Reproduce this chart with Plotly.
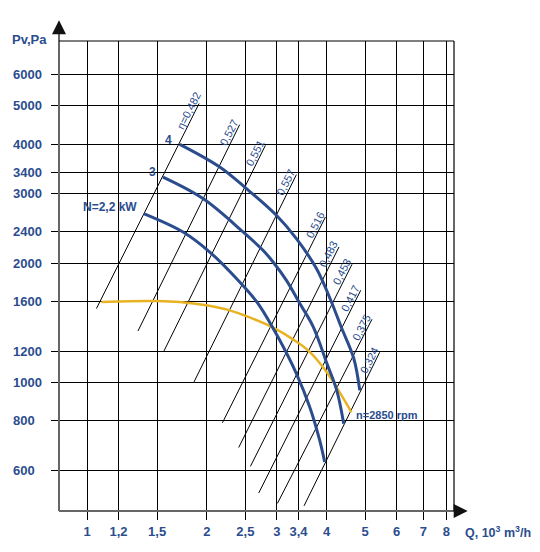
import numpy as np
import plotly.graph_objects as go

# axis ticks
q_ticks = [1, 1.2, 1.5, 2, 2.5, 3, 3.4, 4, 5, 6, 7, 8]
q_tick_text = ["1", "1,2", "1,5", "2", "2,5", "3", "3,4", "4", "5", "6", "7", "8"]
p_ticks = [600, 800, 1000, 1200, 1600, 2000, 2400, 3000, 3400, 4000, 5000, 6000]

# fan curves (Q in 10^3 m3/h, Pv in Pa)
q_22 = [1.388, 1.743, 2.034, 2.419, 2.690, 3.019, 3.358, 3.627, 3.843, 3.955]
p_22 = [2670, 2399, 2135, 1793, 1582, 1302, 1053, 867, 714, 630]

q_3 = [1.552, 1.956, 2.466, 2.768, 2.934, 3.170, 3.423, 3.697, 4.014, 4.241, 4.416]
p_3 = [3300, 2913, 2400, 2157, 2015, 1811, 1585, 1386, 1111, 955, 787]

q_4 = [1.710, 2.155, 2.515, 2.991, 3.358, 3.771, 4.113, 4.352, 4.679, 4.845]
p_4 = [3994, 3501, 3087, 2643, 2308, 1939, 1597, 1380, 1151, 955]

# rpm curve
q_n = [1.087, 1.280, 1.494, 1.710, 1.995, 2.283, 2.563, 2.929, 3.293, 3.627, 3.996, 4.314, 4.617]
p_n = [1597, 1604, 1605, 1596, 1566, 1521, 1460, 1378, 1285, 1195, 1064, 944, 842]

# efficiency lines: lower and upper ends
eta_labels = ["\u03b7=0,482", "0,527", "0,551", "0,557", "0,516", "0,483", "0,453", "0,417", "0,375", "0,324"]
eta_q_lo = [1.056, 1.343, 1.561, 1.857, 2.189, 2.405, 2.574, 2.701, 3.009, 3.510]
eta_p_lo = [1537, 1349, 1201, 1003, 791, 685, 614, 526, 495, 488]
eta_q_hi = [1.912, 2.419, 2.807, 3.358, 3.972, 4.297, 4.633, 4.872, 5.200, 5.437]
eta_p_hi = [5061, 4479, 3971, 3348, 2617, 2199, 1988, 1709, 1444, 1192]

blue = "#2b4d8e"
yellow = "#e8b322"
font = "Arial, Liberation Sans, sans-serif"

fig = go.Figure()

for i in range(len(eta_labels)):
    fig.add_trace(go.Scatter(
        x=[eta_q_lo[i], eta_q_hi[i]], y=[eta_p_lo[i], eta_p_hi[i]],
        mode="lines", line=dict(color="black", width=1), hoverinfo="skip"))
    fig.add_annotation(
        x=np.log10(eta_q_hi[i]), y=np.log10(eta_p_hi[i]), xref="x", yref="y",
        text=eta_labels[i], showarrow=False, textangle=-63,
        xanchor="center", yanchor="middle", xshift=-10.5, yshift=-7.5,
        font=dict(family=font, size=11, color=blue))

fig.add_trace(go.Scatter(x=q_n, y=p_n, mode="lines", line=dict(color=yellow, width=2.5, shape="spline")))
for q, p in [(q_22, p_22), (q_3, p_3), (q_4, p_4)]:
    fig.add_trace(go.Scatter(x=q, y=p, mode="lines", line=dict(color=blue, width=3, shape="spline")))

# curve labels
for q, p, txt, dx, dy in [(q_22, p_22, "N=2,2 kW", -5, 7), (q_3, p_3, "3", -5, 5), (q_4, p_4, "4", -6, 4)]:
    fig.add_annotation(x=np.log10(q[0]), y=np.log10(p[0]), xref="x", yref="y", text=txt,
                       showarrow=False, xanchor="right", yanchor="middle", xshift=dx, yshift=dy,
                       font=dict(family=font, size=12, color=blue, weight="bold"))
fig.add_annotation(x=np.log10(q_n[-1]), y=np.log10(p_n[-1]), xref="x", yref="y", text="n=2850 rpm",
                   showarrow=False, xanchor="left", yanchor="middle", xshift=3, yshift=-3,
                   font=dict(family=font, size=11, color=blue, weight="bold"))

# y tick labels, left aligned
for p in p_ticks:
    fig.add_annotation(x=-0.1223, y=np.log10(p), xref="paper", yref="y", text=str(p),
                       showarrow=False, xanchor="left", yanchor="middle",
                       font=dict(family=font, size=13, color=blue, weight="bold"))

fig.add_annotation(x=-0.1248, y=1.004, xref="paper", yref="paper", text="Pv,Pa", showarrow=False,
                   xanchor="left", yanchor="middle", font=dict(family=font, size=13, color=blue, weight="bold"))
fig.add_annotation(x=1.022, y=-0.045, xref="paper", yref="paper", text="Q, 10<sup>3</sup> m<sup>3</sup>/h",
                   showarrow=False, xanchor="left", yanchor="middle",
                   font=dict(family=font, size=12.5, color=blue, weight="bold"))

# axes (gray) with black arrow heads
fig.add_shape(type="line", xref="paper", yref="paper", x0=0, x1=0, y0=0, y1=1.03,
              line=dict(color="#666666", width=2))
fig.add_shape(type="line", xref="paper", yref="paper", x0=0, x1=1.025, y0=0, y1=0,
              line=dict(color="#666666", width=2))
fig.add_annotation(x=0, y=1.044, xref="paper", yref="paper", ax=0, ay=14, axref="pixel", ayref="pixel",
                   text="", showarrow=True, arrowhead=2, arrowsize=1.4, arrowwidth=2, arrowcolor="#111111",
                   standoff=0, startstandoff=0)
fig.add_annotation(x=1.0347, y=0, xref="paper", yref="paper", ax=-14, ay=0, axref="pixel", ayref="pixel",
                   text="", showarrow=True, arrowhead=2, arrowsize=1.4, arrowwidth=2, arrowcolor="#111111",
                   standoff=0, startstandoff=0)

# top and right frame
fig.add_shape(type="line", xref="paper", yref="paper", x0=0, x1=1, y0=1, y1=1, line=dict(color="black", width=1.2))
fig.add_shape(type="line", xref="paper", yref="paper", x0=1, x1=1, y0=0, y1=1, line=dict(color="black", width=1.2))

fig.update_xaxes(type="log", range=[-0.0704, 0.9221], tickvals=q_ticks, ticktext=q_tick_text,
                 showgrid=True, gridcolor="black", gridwidth=1.2, ticks="outside", ticklen=8,
                 tickcolor="black", tickwidth=1.2, showline=False, zeroline=False, automargin=False,
                 tickfont=dict(family=font, size=13, color=blue, weight="bold"))
fig.update_yaxes(type="log", range=[2.6754, 3.8623], tickvals=p_ticks, showticklabels=False,
                 showgrid=True, gridcolor="black", gridwidth=1.2, ticks="outside", ticklen=7,
                 tickcolor="black", tickwidth=1.2, showline=False, zeroline=False, automargin=False)

# page body adds 8px, so the margins are trimmed by that amount
fig.update_layout(width=524, height=536, margin=dict(l=51, r=78, t=33, b=33),
                  paper_bgcolor="white", plot_bgcolor="white", showlegend=False)

fig.write_html("out.html")
